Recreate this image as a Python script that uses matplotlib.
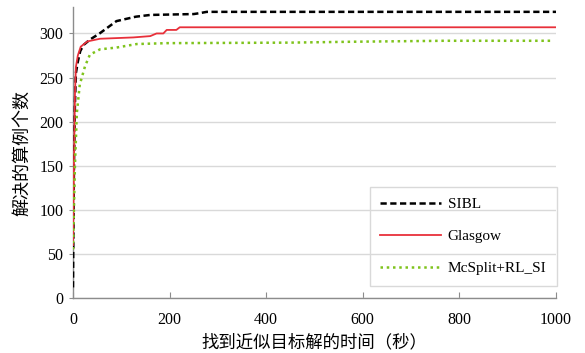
import matplotlib
matplotlib.use("Agg")
import matplotlib.pyplot as plt

# data
sibl_t = [0, 0.5, 2, 4, 6, 10, 15, 22, 35, 55, 90, 130, 160, 250, 262, 277, 1000]
sibl_v = [12, 52, 150, 220, 255, 268, 280, 287, 293, 300, 314, 319, 321, 322, 323, 324.5, 324.5]

glas_t = [0, 2, 4, 6, 10, 16, 30, 56, 125, 160, 173, 187, 194, 214, 221, 1000]
glas_v = [60, 150, 230, 262, 275, 285, 291, 294, 295.5, 297, 300, 300, 304, 304, 307, 307]

mcs_t = [0, 4, 8, 14, 25, 35, 56, 90, 132, 194, 450, 577, 770, 994]
mcs_v = [55, 150, 210, 242, 263, 276, 282, 284, 288, 289, 289.6, 290.6, 291.7, 291.7]

labels = ["SIBL", "Glasgow", "McSplit+RL_SI"]
xticks = [0, 200, 400, 600, 800, 1000]
yticks = [0, 50, 100, 150, 200, 250, 300]

serif = ["Liberation Serif", "DejaVu Serif"]
cjk = ["Noto Sans CJK SC", "DejaVu Sans"]

fig = plt.figure(figsize=(5.85, 3.53), dpi=100)
ax = fig.add_axes([73/585, 1-298/353, (556-73)/585, (298-7)/353])

ax.plot(sibl_t, sibl_v, color="black", lw=1.8, dashes=(2.5, 1.4), label=labels[0], zorder=3)
ax.plot(glas_t, glas_v, color="#e8303a", lw=1.3, label=labels[1], zorder=3)
ax.plot(mcs_t, mcs_v, color="#7fc31c", lw=1.8, dashes=(1, 1.5), label=labels[2], zorder=3)

ax.set_xlim(0, 1000)
ax.set_ylim(0, 330)
ax.set_xticks(xticks)
ax.set_yticks(yticks)
ax.grid(axis="y", color="#d9d9d9", lw=1)
ax.set_axisbelow(True)
for s in ["top", "right"]:
    ax.spines[s].set_visible(False)
for s in ["left", "bottom"]:
    ax.spines[s].set_color("#8c8c8c")
    ax.spines[s].set_linewidth(1)
ax.tick_params(axis="x", direction="in", length=4, color="#8c8c8c", pad=10)
ax.tick_params(axis="y", direction="out", length=3, color="#8c8c8c", pad=4)
for lab in ax.get_xticklabels() + ax.get_yticklabels():
    lab.set_fontfamily(serif)
    lab.set_fontsize(11.5)

ax.set_xlabel("找到近似目标解的时间（秒）", fontfamily=cjk, fontsize=12.5, labelpad=4)
ax.set_ylabel("解决的算例个数", fontfamily=cjk, fontsize=13, labelpad=6)

leg = ax.legend(loc="upper right", bbox_to_anchor=(557/585, 1-187/353),
                bbox_transform=fig.transFigure, borderaxespad=0,
                prop={"family": serif, "size": 11}, handlelength=4.0,
                labelspacing=1.2, fancybox=False, framealpha=1,
                borderpad=0.7, handletextpad=0.4)
leg.get_frame().set_facecolor("none")
leg.get_frame().set_edgecolor("#d9d9d9")
leg.get_frame().set_linewidth(1)

fig.savefig("out.png", dpi=100)
